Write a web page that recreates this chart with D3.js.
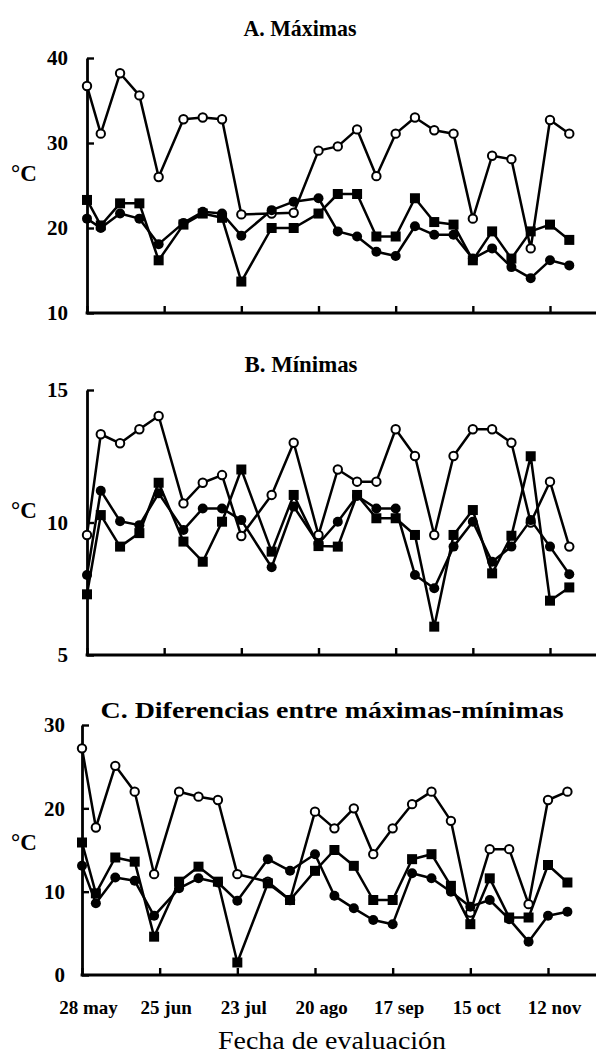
<!DOCTYPE html>
<html><head><meta charset="utf-8">
<script src="https://cdn.jsdelivr.net/npm/d3@7"></script>
<style>body{margin:0;background:#fff}svg{display:block}</style>
</head><body>
<script>
// ---- data ----
const fechas = ["2002-05-28","2002-06-02","2002-06-09","2002-06-16","2002-06-23","2002-07-02","2002-07-09","2002-07-16","2002-07-23","2002-08-03","2002-08-11","2002-08-20","2002-08-27","2002-09-03","2002-09-10","2002-09-17","2002-09-24","2002-10-01","2002-10-08","2002-10-15","2002-10-22","2002-10-29","2002-11-05","2002-11-12","2002-11-19"];
const tickFechas = ["2002-05-28","2002-06-25","2002-07-23","2002-08-20","2002-09-17","2002-10-15","2002-11-12"];
const tickLabels = ["28 may","25 jun","23 jul","20 ago","17 sep","15 oct","12 nov"];

const maxAbierto  = [36.7,31.1,38.2,35.6,26.0,32.8,33.0,32.8,21.6,21.7,21.8,29.1,29.6,31.6,26.1,31.1,33.0,31.5,31.1,21.1,28.5,28.1,17.6,32.7,31.1];
const maxCirculo  = [21.1,20.0,21.7,21.1,18.1,20.6,21.9,21.7,19.1,22.1,23.1,23.5,19.6,19.0,17.2,16.7,20.2,19.2,19.2,16.4,17.6,15.4,14.1,16.2,15.6];
const maxCuadrado = [23.3,20.3,22.9,22.9,16.2,20.4,21.7,21.2,13.7,20.0,20.0,21.7,24.0,24.0,19.0,19.0,23.5,20.7,20.4,16.2,19.6,16.4,19.6,20.4,18.6];

const minAbierto  = [9.53,13.33,12.99,13.52,14.02,10.72,11.5,11.79,9.49,11.04,13.01,9.53,12.0,11.54,11.54,13.52,12.51,9.53,12.51,13.52,13.52,13.01,10.0,11.54,9.09];
const minCirculo  = [8.02,11.2,10.05,9.9,11.1,9.72,10.53,10.53,10.09,8.31,10.6,9.2,10.03,11.0,10.53,10.53,8.02,7.52,9.09,10.03,8.52,9.09,10.09,9.09,8.05];
const minCuadrado = [7.29,10.28,9.09,9.6,11.5,9.28,8.52,10.03,12.0,8.9,11.04,9.11,9.09,11.04,10.16,10.16,9.53,6.07,9.53,10.47,8.08,9.5,12.5,7.05,7.55];

const difAbierto  = [27.2,17.7,25.1,22.0,12.1,22.0,21.4,21.0,12.1,11.2,9.0,19.6,17.6,20.0,14.5,17.6,20.5,22.0,18.5,7.5,15.1,15.1,8.5,21.0,22.0];
const difCirculo  = [13.1,8.6,11.7,11.3,7.1,10.4,11.6,11.1,8.9,13.9,12.5,14.5,9.5,8.0,6.6,6.1,12.2,11.6,10.0,8.2,9.0,6.7,4.0,7.1,7.6];
const difCuadrado = [15.9,9.8,14.1,13.6,4.6,11.2,13.0,11.2,1.5,11.0,9.0,12.5,15.0,13.1,9.0,9.0,13.9,14.5,10.7,6.1,11.6,6.9,6.9,13.2,11.1];

const yTicksA = [10,20,30,40];
const yTicksB = [5,10,15];
const yTicksC = [0,10,20,30];

const titulos = ["A. Máximas","B. Mínimas","C. Diferencias entre máximas-mínimas"];
const unidad = "°C";
const tituloX = "Fecha de evaluación";

// ---- drawing ----
const W = 596, H = 1055;
const parse = d3.timeParse("%Y-%m-%d");
const dates = fechas.map(parse);
const tDates = tickFechas.map(parse);

const svg = d3.select("body").append("svg").attr("width", W).attr("height", H);
const serif = "'Liberation Serif','Times New Roman',serif";

const panels = [
  {title: titulos[0], ticks: yTicksA, series: [maxAbierto, maxCirculo, maxCuadrado],
   x0: 87, x1: 550, yTop: 58, yBot: 313, titleY: 36, titleX: 300, titleLen: 113, unitY: 173, labRight: 68},
  {title: titulos[1], ticks: yTicksB, series: [minAbierto, minCirculo, minCuadrado],
   x0: 87, x1: 550, yTop: 390, yBot: 655, titleY: 372, titleX: 301, titleLen: 113, unitY: 510, labRight: 68},
  {title: titulos[2], ticks: yTicksC, series: [difAbierto, difCirculo, difCuadrado],
   x0: 82, x1: 548, yTop: 725, yBot: 975, titleY: 718, titleX: 332, titleLen: 463, unitY: 842, labRight: 65}
];

panels.forEach((p, pi) => {
  const x = d3.scaleTime().domain([tDates[0], tDates[tDates.length-1]]).range([p.x0, p.x1]);
  const y = d3.scaleLinear().domain(d3.extent(p.ticks)).range([p.yBot, p.yTop]);
  const g = svg.append("g");

  g.append("text").attr("x", p.titleX).attr("y", p.titleY)
    .attr("text-anchor", "middle").attr("font-family", serif).attr("font-weight", "bold")
    .attr("font-size", 23).attr("textLength", p.titleLen).attr("lengthAdjust", "spacingAndGlyphs")
    .text(p.title);

  g.append("text").attr("x", 24).attr("y", p.unitY).attr("text-anchor", "middle")
    .attr("dominant-baseline", "central").attr("font-family", serif).attr("font-weight", "bold")
    .attr("font-size", 23).text(unidad);

  const ya = g.append("g").attr("transform", `translate(${p.x0},0)`)
    .call(d3.axisLeft(y).tickValues(p.ticks).tickSize(-7).tickSizeOuter(0).tickPadding(p.x0 - p.labRight).tickFormat(d3.format("d")));
  ya.select(".domain").attr("stroke-width", 2.8);
  ya.selectAll(".tick line").attr("stroke-width", 2.4);
  ya.selectAll(".tick text").attr("font-family", serif).attr("font-weight", "bold").attr("font-size", 21);

  const xa = g.append("g").attr("transform", `translate(0,${p.yBot})`)
    .call(d3.axisBottom(x).tickValues(tDates).tickSize(-7).tickSizeOuter(0).tickFormat(""));
  xa.select(".domain").remove();
  xa.selectAll(".tick line").attr("stroke-width", 2.4);
  g.append("line").attr("x1", p.x0 - 1.4).attr("x2", W).attr("y1", p.yBot).attr("y2", p.yBot)
    .attr("stroke", "#000").attr("stroke-width", 2.8);

  if (pi === 2) {
    xa.selectAll(".tick").append("text").attr("x", 6).attr("y", 39)
      .attr("text-anchor", "middle").attr("fill", "#000").attr("font-family", serif)
      .attr("font-weight", "bold").attr("font-size", 19)
      .text((d, i) => tickLabels[i]);
  }

  const line = d3.line().x((d, i) => x(dates[i])).y(d => y(d));
  const styles = ["open", "circle", "square"];
  p.series.forEach(s => {
    g.append("path").datum(s).attr("d", line).attr("fill", "none")
      .attr("stroke", "#000").attr("stroke-width", 2.5).attr("stroke-linejoin", "round");
  });
  p.series.forEach((s, si) => {
    const st = styles[si];
    const mg = g.append("g");
    if (st === "square") {
      mg.selectAll("rect").data(s).join("rect")
        .attr("x", (d, i) => x(dates[i]) - 5).attr("y", d => y(d) - 5)
        .attr("width", 10).attr("height", 10).attr("fill", "#000");
    } else {
      mg.selectAll("circle").data(s).join("circle")
        .attr("cx", (d, i) => x(dates[i])).attr("cy", d => y(d))
        .attr("r", st === "open" ? 4.2 : 5)
        .attr("fill", st === "open" ? "#fff" : "#000")
        .attr("stroke", "#000").attr("stroke-width", st === "open" ? 2 : 0);
    }
  });
});

svg.append("text").attr("x", 332).attr("y", 1049).attr("text-anchor", "middle")
  .attr("font-family", serif).attr("font-size", 26).attr("textLength", 228)
  .attr("lengthAdjust", "spacingAndGlyphs").text(tituloX);
</script>
</body></html>
